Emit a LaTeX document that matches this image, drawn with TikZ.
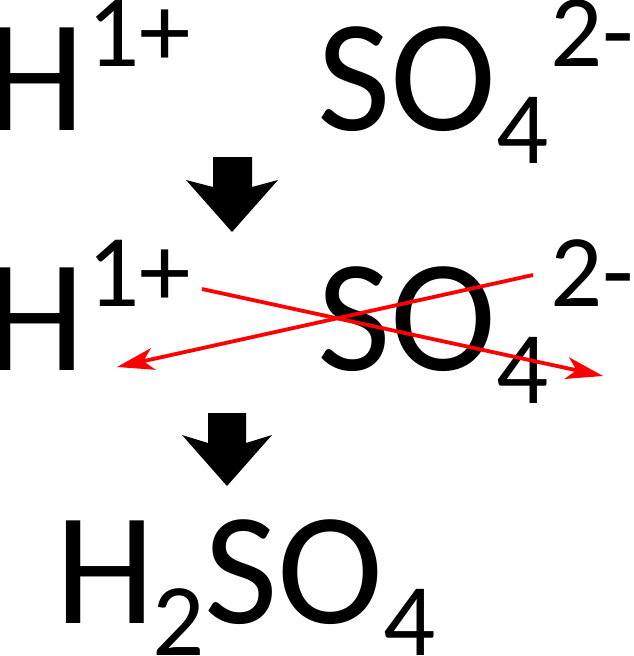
\documentclass[tikz,border=0pt]{standalone}
\usepackage{fontspec}
\setmainfont{Carlito}
\usetikzlibrary{arrows.meta}
\begin{document}
\begin{tikzpicture}[x=1pt,y=-1pt,
  big/.style={anchor=base west,inner sep=0pt,outer sep=0pt,font=\fontsize{160}{160}\selectfont},
  small/.style={anchor=base west,inner sep=0pt,outer sep=0pt,font=\fontsize{103}{103}\selectfont},
  blockarrow/.style={fill=black},
  redarrow/.style={draw=red,line width=3.8pt,-{Stealth[length=37pt,width=22pt,inset=10pt]}}]
\useasboundingbox (0,0) rectangle (633,656);
% row 1
\node[big] (h1) at (-14,130) {H};
\node[small] (c1) at (87,66) {1+};
\node[big] (so1) at (317,130) {SO};
\node[small] (s1) at (496,163) {4};
\node[small] (c2) at (550,66) {2-};
% row 2
\node[big] (h2) at (-14,370) {H};
\node[small] (c3) at (87,306) {1+};
\node[big] (so2) at (317,370) {SO};
\node[small] (s2) at (496,403) {4};
\node[small] (c4) at (550,306) {2-};
% row 3
\node[big] (h3) at (55,623) {H};
\node[small] (s3) at (152,655) {2};
\node[big] (so3) at (204,623) {SO};
\node[small] (s4) at (383,655) {4};
% block arrows
\fill[blockarrow] (213,157) -- (252,157) -- (252,187) -- (278,180) -- (232,232) -- (186,180) -- (213,187) -- cycle;
\fill[blockarrow] (208,413) -- (246,413) -- (246,443) -- (272,435) -- (227,486) -- (182,435) -- (208,443) -- cycle;
% red crossing arrows
\coordinate (ra1) at (202,289);
\coordinate (ra2) at (603,376);
\coordinate (rb1) at (533,275);
\coordinate (rb2) at (117,367);
\draw[redarrow] (ra1) -- (ra2);
\draw[redarrow] (rb1) -- (rb2);
\end{tikzpicture}
\end{document}
